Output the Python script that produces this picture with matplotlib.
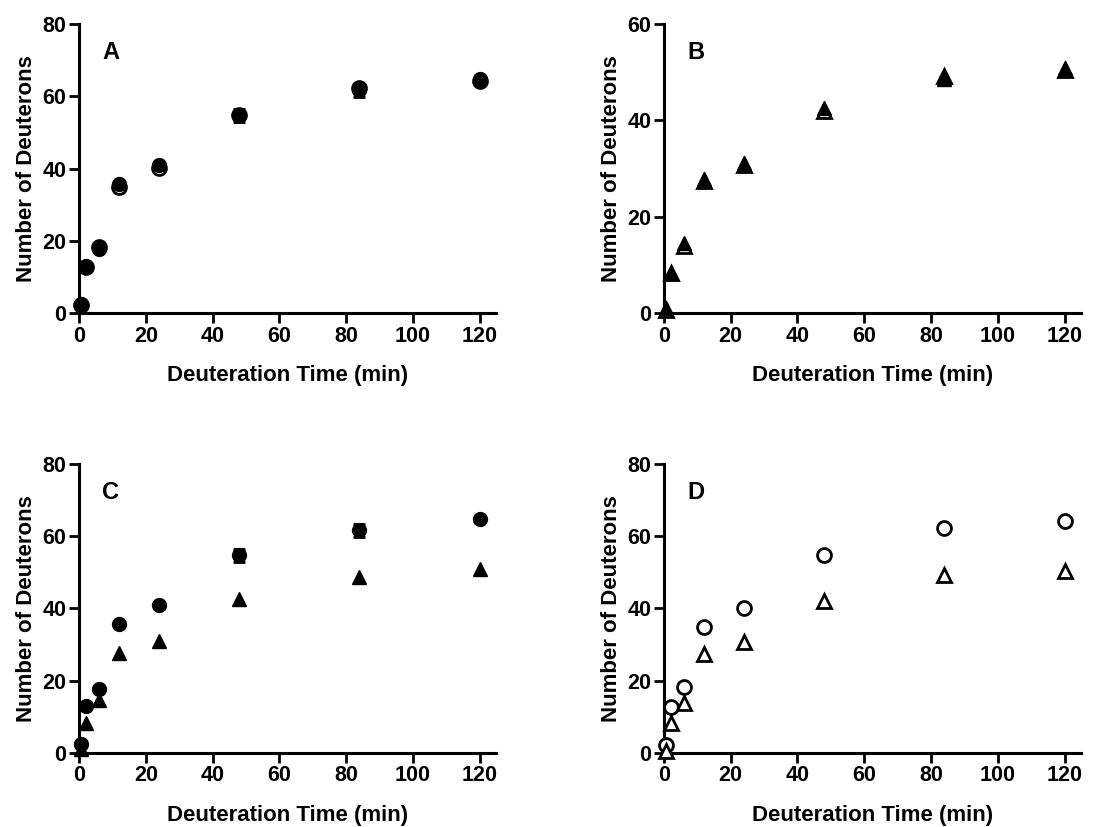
#!/usr/bin/env python
'''
plot.py: deuterium uptake curves, four panels (A-D)
'''

import matplotlib
matplotlib.use("Agg")
import matplotlib.pyplot as plt

# deuteration time points (min)
times = [0.5, 2, 6, 12, 24, 48, 84, 120]

# filled circles
circ_fill = [2.6, 13.1, 17.6, 35.8, 40.9, 54.7, 61.7, 64.8]
circ_fill_err = [0.4, 0.4, 0.5, 0.6, 0.5, 1.8, 1.8, 0.5]

# open circles
circ_open = [2.3, 12.8, 18.4, 35.0, 40.2, 54.9, 62.4, 64.1]

# filled triangles
tri_fill = [1.0, 8.4, 14.6, 27.8, 31.1, 42.5, 48.6, 50.8]

# open triangles
tri_open = [0.6, 8.3, 13.9, 27.5, 30.8, 42.0, 49.2, 50.5]

panel_letters = ["A", "B", "C", "D"]
xticks = [0, 20, 40, 60, 80, 100, 120]
xlabel = "Deuteration Time (min)"
ylabel = "Number of Deuterons"


def style_axes(ax, ymax, ystep, letter):
    ax.set_xlim(0, 125)
    ax.set_ylim(0, ymax)
    ax.set_xticks(xticks)
    ax.set_yticks(range(0, ymax + 1, ystep))
    for side in ("top", "right"):
        ax.spines[side].set_visible(False)
    for side in ("left", "bottom"):
        ax.spines[side].set_linewidth(2.2)
    ax.tick_params(direction="out", length=7, width=2.0, labelsize=15.5, pad=2)
    for lab in ax.get_xticklabels() + ax.get_yticklabels():
        lab.set_fontweight("bold")
    ax.set_xlabel(xlabel, fontsize=16, fontweight="bold", labelpad=13)
    ax.set_ylabel(ylabel, fontsize=16, fontweight="bold", labelpad=4)
    ax.text(0.055, 0.90, letter, transform=ax.transAxes, fontsize=17,
            fontweight="bold", va="center", ha="left")


def circles(ax, filled=True, opened=True):
    if opened:
        ax.plot(times, circ_open, "o", ms=10, mfc="white", mec="black", mew=2.0,
                clip_on=False, zorder=3)
    if filled:
        ax.errorbar(times, circ_fill, yerr=circ_fill_err, fmt="o", ms=10,
                    color="black", ecolor="black", elinewidth=2.0, capsize=4.5,
                    capthick=2.0, clip_on=False, zorder=4)


def triangles(ax, filled=True, opened=True):
    if opened:
        ax.plot(times, tri_open, "^", ms=10, mfc="white", mec="black", mew=2.0,
                clip_on=False, zorder=3)
    if filled:
        ax.plot(times, tri_fill, "^", ms=10, color="black", clip_on=False, zorder=4)


def main():
    plt.rcParams["font.family"] = ["Liberation Sans", "DejaVu Sans"]

    fig = plt.figure(figsize=(11.04, 8.27), dpi=100)

    left_a, left_b = 0.0716, 0.6014
    width = 0.378
    height = 0.3495
    bottom_top, bottom_low = 0.6215, 0.0895

    ax_a = fig.add_axes([left_a, bottom_top, width, height])
    ax_b = fig.add_axes([left_b, bottom_top, width, height])
    ax_c = fig.add_axes([left_a, bottom_low, width, height])
    ax_d = fig.add_axes([left_b, bottom_low, width, height])

    # A: filled vs open circles
    circles(ax_a)
    style_axes(ax_a, 80, 20, panel_letters[0])

    # B: filled vs open triangles
    triangles(ax_b)
    style_axes(ax_b, 60, 20, panel_letters[1])

    # C: filled circles and filled triangles
    circles(ax_c, opened=False)
    triangles(ax_c, opened=False)
    style_axes(ax_c, 80, 20, panel_letters[2])

    # D: open circles and open triangles
    circles(ax_d, filled=False)
    triangles(ax_d, filled=False)
    style_axes(ax_d, 80, 20, panel_letters[3])

    fig.savefig("out.png", dpi=100)
    plt.close()


if __name__ == '__main__':
    main()
